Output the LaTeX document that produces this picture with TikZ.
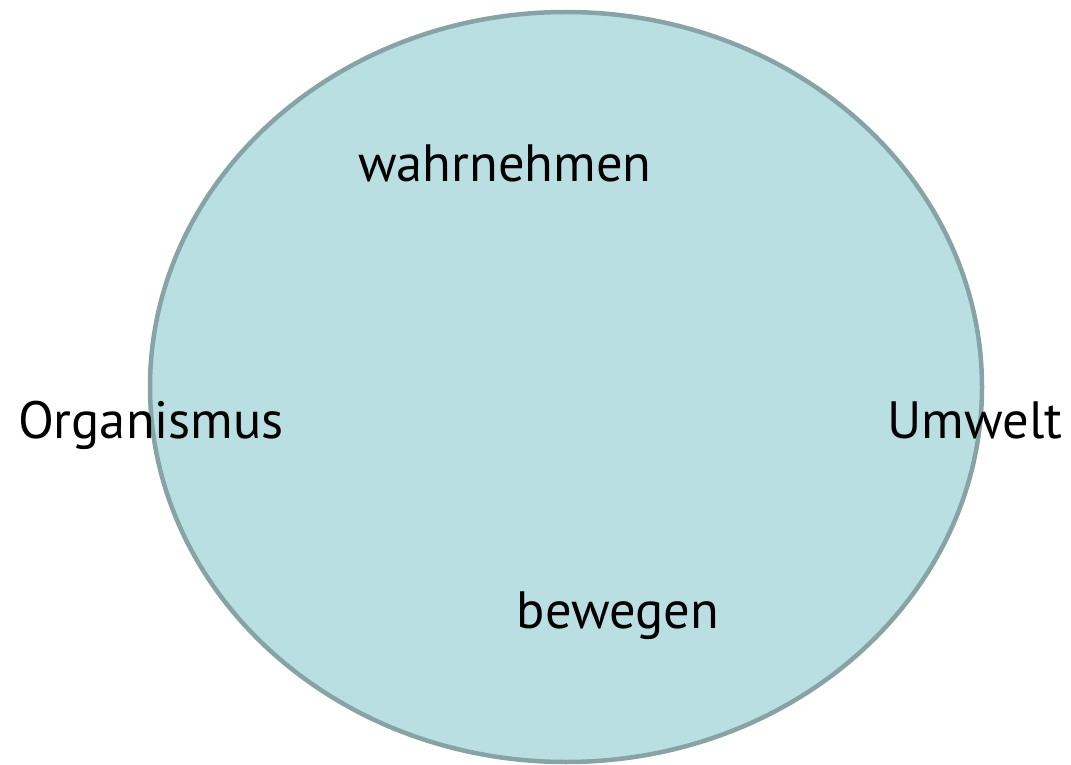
\documentclass[tikz,border=0pt]{standalone}
\usepackage{fontspec}
\setmainfont{PT Sans}
\definecolor{fillc}{HTML}{BADFE3}
\definecolor{linec}{HTML}{86A3A5}
\begin{document}
\begin{tikzpicture}[x=1pt,y=-1pt,
  lbl/.style={font=\fontsize{52.5}{60}\selectfont, anchor=base, inner sep=0pt, text=black}]
\useasboundingbox (0,0) rectangle (1071,765);
\draw[fill=fillc, draw=linec, line width=4.5pt] (566,387) ellipse [x radius=416, y radius=375];
\node[lbl] (w) at (505,181) {wahrnehmen};
\node[lbl] (o) at (151,438) {Organismus};
\node[lbl] (u) at (975,438) {Umwelt};
\node[lbl] (b) at (618,628) {bewegen};
\end{tikzpicture}
\end{document}
